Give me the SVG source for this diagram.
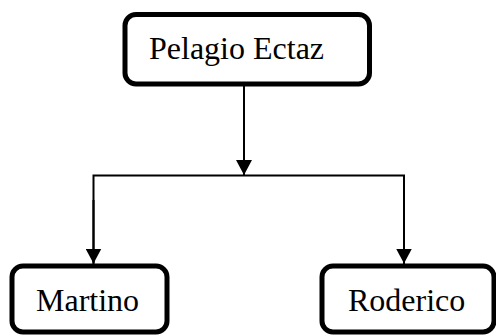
<svg xmlns="http://www.w3.org/2000/svg" width="496" height="336" viewBox="0 0 496 336">
<defs>
<style>
.node rect{fill:#fff;stroke:#000;stroke-width:5}
.node text{font-family:"Liberation Serif","Times New Roman",serif;font-size:32px;fill:#000}
.edge{fill:none;stroke:#000;stroke-width:2}
</style>
<marker id="arr" markerUnits="userSpaceOnUse" markerWidth="16" markerHeight="16" viewBox="0 0 16 16" refX="15" refY="8" orient="auto">
<path d="M0,0 L15,8 L0,16 Z" fill="#000"/>
</marker>
</defs>
<rect width="496" height="336" fill="#fff"/>
<g id="connectors">
<path class="edge" d="M244,86 L244,175" marker-end="url(#arr)"/>
<path class="edge" d="M93.5,266 L93.5,175.5 L404,175.5 L404,266"/>
<path class="edge" d="M93.5,200 L93.5,263.5" marker-end="url(#arr)"/>
<path class="edge" d="M404,200 L404,263.5" marker-end="url(#arr)"/>
</g>
<g id="pelagio" class="node">
<rect x="125" y="14.5" width="244.5" height="69.5" rx="11"/>
<text x="149" y="58.5">Pelagio Ectaz</text>
</g>
<g id="martino" class="node">
<rect x="12" y="266" width="155" height="66" rx="11"/>
<text x="36" y="311">Martino</text>
</g>
<g id="roderico" class="node">
<rect x="322" y="266" width="172" height="66" rx="11"/>
<text x="348" y="311">Roderico</text>
</g>
</svg>
